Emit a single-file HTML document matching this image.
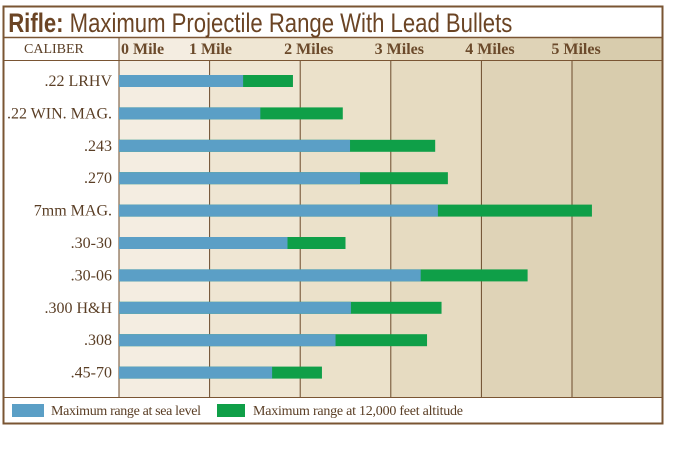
<!DOCTYPE html>
<html><head><meta charset="utf-8"><style>
body{margin:0;background:#fff;width:694px;height:445px;overflow:hidden}
svg text{font-family:"Liberation Serif",serif}
</style></head><body>
<svg width="694" height="445">
<g id="bg"></g>
<rect x="3.5" y="6.5" width="659" height="417" fill="none" stroke="#7a5533" stroke-width="2"/>
<line x1="3" y1="37.5" x2="663" y2="37.5" stroke="#7a5533" stroke-width="1.5"/>
<line x1="3" y1="60.5" x2="663" y2="60.5" stroke="#7a5533" stroke-width="1"/>
<line x1="3" y1="397.5" x2="663" y2="397.5" stroke="#7a5533" stroke-width="1"/>
<text x="10" y="32" font-size="27" fill="#6b4424" transform="scale(0.82,1)" style="font-family:'Liberation Sans',sans-serif"><tspan font-weight="bold">Rifle:</tspan> Maximum Projectile Range With Lead Bullets</text>
<text x="24" y="53" font-size="14" fill="#5a3e25">CALIBER</text>
<g id="marks"></g>
<rect x="12" y="404" width="32" height="13" fill="#5b9fc6"/>
<text x="51" y="415" font-size="14" fill="#5a3e25" textLength="150">Maximum range at sea level</text>
<rect x="217" y="404" width="28" height="13" fill="#0f9f48"/>
<text x="253" y="415" font-size="14" fill="#5a3e25" textLength="210">Maximum range at 12,000 feet altitude</text>
</svg>
<script>
const categories=[".22 LRHV",".22 WIN. MAG.",".243",".270","7mm MAG.",".30-30",".30-06",".300 H&H",".308",".45-70"];
const seaLevel=[1.37,1.56,2.55,2.66,3.52,1.86,3.33,2.56,2.39,1.69];
const altitude=[1.92,2.47,3.49,3.63,5.22,2.50,4.51,3.56,3.40,2.24];
const tickLabels=["0 Mile","1 Mile","2 Miles","3 Miles","4 Miles","5 Miles"];
const NS="http://www.w3.org/2000/svg";
const plotX0=119,pxPerMile=90.6,plotY0=60,rowH=32.4;
const xs=v=>plotX0+v*pxPerMile;
const ys=i=>plotY0+21+i*rowH;
function mk(t,a,p){const e=document.createElementNS(NS,t);for(const k in a)e.setAttribute(k,a[k]);p.appendChild(e);return e;}
const bgG=document.getElementById('bg'),marksG=document.getElementById('marks');
const cols=["#f4ede1","#efe6d3","#ebe1ca","#e6dbc1","#dfd3b7","#d8ccad"];
for(let i=0;i<6;i++){
 const r=mk('rect',{x:xs(i),y:37,width:pxPerMile,height:360,fill:cols[i]},bgG);
 
 
 if(i>0){const l=mk('line',{x1:xs(i),y1:60,x2:xs(i),y2:397,stroke:'#6b4a2b','stroke-width':1},bgG);
 
 }
}
mk('line',{x1:plotX0,y1:37,x2:plotX0,y2:397,stroke:'#6b4a2b','stroke-width':1},bgG);
const tickX=[0,0.75,1.8,2.8,3.8,4.75];
tickLabels.forEach((t,i)=>{
 const e=mk('text',{x:xs(tickX[i])+2,y:54,'font-size':16,'font-weight':'bold',fill:'#6b4a2b'},marksG);
 e.textContent=t;
 
 
});
categories.forEach((c,i)=>{
 const y=ys(i);
 const t=mk('text',{x:112,y:y+5,'font-size':16,fill:'#5a3e25','text-anchor':'end'},marksG);
 t.textContent=c;
 
 
 const g=mk('rect',{x:xs(0),y:y-6,width:xs(altitude[i])-xs(0),height:12,fill:'#0f9f48'},marksG);
 
 
 const b=mk('rect',{x:xs(0),y:y-6,width:xs(seaLevel[i])-xs(0),height:12,fill:'#5b9fc6'},marksG);
 
 
});
</script>
</body></html>
